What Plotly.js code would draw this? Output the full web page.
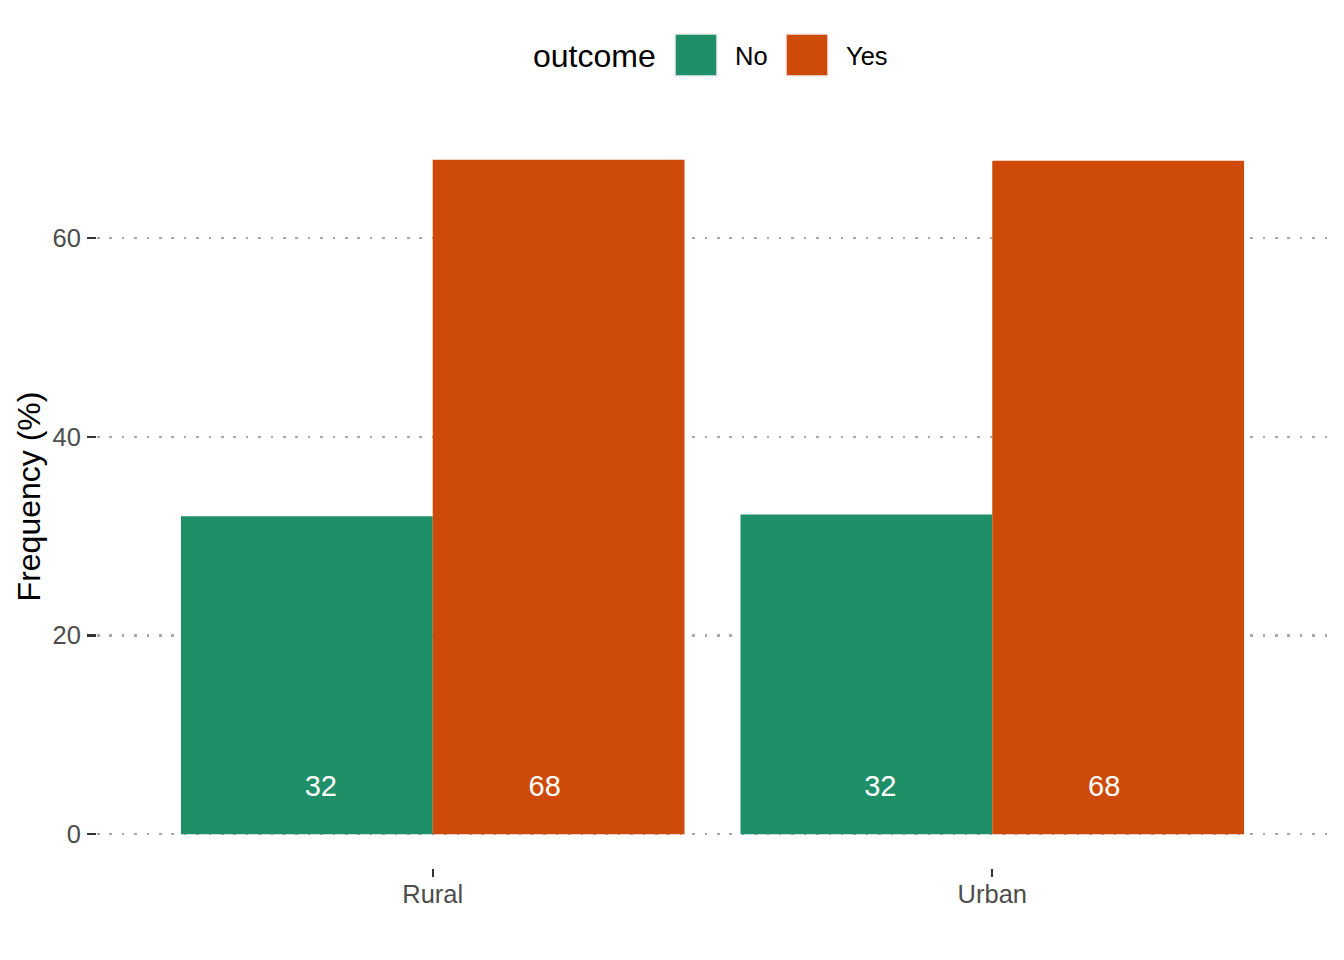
<!DOCTYPE html>
<html>
<head>
<meta charset="utf-8">
<script src="https://cdn.plot.ly/plotly-3.0.1.min.js"></script>
<style>html,body{margin:0;padding:0;background:#fff;}#chart{width:1344px;height:960px;}</style>
</head>
<body>
<div id="chart"></div>
<script>
// Data
var categories = ["Rural", "Urban"];
var outcomes = ["No", "Yes"];
var noValues = [32.0, 32.2];
var yesValues = [67.9, 67.8];
var yTicks = [0, 20, 40, 60];
var colors = {No: "#1E8F66", Yes: "#CD4A08"};

// Panel geometry in pixels
var W = 1344, H = 960;
var L = 97, R = 1328, T = 125, B = 868;
function px(x) { return (x - L) / (R - L); }
function py(y) { return (B - y) / (B - T); }

var catIdx = categories.map(function (c, i) { return i; });
var font = "Liberation Sans, Arial, Helvetica, sans-serif";

var traces = [
  {type: "bar", name: "No", x: catIdx, y: noValues, marker: {color: colors.No, line: {width: 0}}, showlegend: false, hoverinfo: "skip"},
  {type: "bar", name: "Yes", x: catIdx, y: yesValues, marker: {color: colors.Yes, line: {width: 0}}, showlegend: false, hoverinfo: "skip"},
  {type: "scatter", mode: "text", x: catIdx.map(function (i) { return i - 0.2; }), y: noValues.map(function () { return 4.6; }),
   text: noValues.map(function (v) { return String(Math.round(v)); }), textfont: {family: font, size: 29, color: "#FFFFFF"}, showlegend: false, hoverinfo: "skip", cliponaxis: false},
  {type: "scatter", mode: "text", x: catIdx.map(function (i) { return i + 0.2; }), y: yesValues.map(function () { return 4.6; }),
   text: yesValues.map(function (v) { return String(Math.round(v)); }), textfont: {family: font, size: 29, color: "#FFFFFF"}, showlegend: false, hoverinfo: "skip", cliponaxis: false}
];

var shapes = [
  {type: "rect", xref: "paper", yref: "paper", x0: px(675), x1: px(717), y0: py(76), y1: py(34), fillcolor: colors.No, line: {color: "#EEEEEE", width: 1.5}},
  {type: "rect", xref: "paper", yref: "paper", x0: px(786), x1: px(828), y0: py(76), y1: py(34), fillcolor: colors.Yes, line: {color: "#EEEEEE", width: 1.5}}
];

var annotations = [
  {xref: "paper", yref: "paper", x: px(658), y: py(56), xanchor: "right", yanchor: "middle", text: "outcome", showarrow: false, font: {family: font, size: 32, color: "#000000"}},
  {xref: "paper", yref: "paper", x: px(733), y: py(56), xanchor: "left", yanchor: "middle", text: outcomes[0], showarrow: false, font: {family: font, size: 25.5, color: "#000000"}},
  {xref: "paper", yref: "paper", x: px(844), y: py(56), xanchor: "left", yanchor: "middle", text: outcomes[1], showarrow: false, font: {family: font, size: 25.5, color: "#000000"}}
];

var layout = {
  width: W, height: H,
  margin: {l: L, r: W - R, t: T, b: H - B, pad: 0},
  paper_bgcolor: "#FFFFFF", plot_bgcolor: "#FFFFFF",
  barmode: "group", bargap: 0.1, bargroupgap: 0,
  showlegend: false,
  font: {family: font},
  xaxis: {
    type: "linear", range: [-0.6, 1.6],
    tickmode: "array", tickvals: catIdx, ticktext: categories,
    showgrid: false, zeroline: false, showline: false,
    ticks: "outside", ticklen: 8, tickwidth: 2, tickcolor: "#333333",
    ticklabelstandoff: -5,
    tickfont: {family: font, size: 25.5, color: "#4D4D4D"}
  },
  yaxis: {
    range: [-3.4, 71.4],
    tickmode: "array", tickvals: yTicks, ticktext: yTicks.map(String),
    showgrid: true, gridcolor: "#A8A8A8", gridwidth: 2.5, griddash: "2.5px,9.9px",
    zeroline: false, showline: false,
    ticks: "outside", ticklen: 9, tickwidth: 2.2, tickcolor: "#333333",
    ticklabelstandoff: 1,
    tickfont: {family: font, size: 25.5, color: "#4D4D4D"},
    title: {text: "Frequency (%)", font: {family: font, size: 32, color: "#000000"}, standoff: 2}
  },
  shapes: shapes,
  annotations: annotations
};

Plotly.newPlot("chart", traces, layout, {displayModeBar: false, staticPlot: true});
</script>
</body>
</html>
